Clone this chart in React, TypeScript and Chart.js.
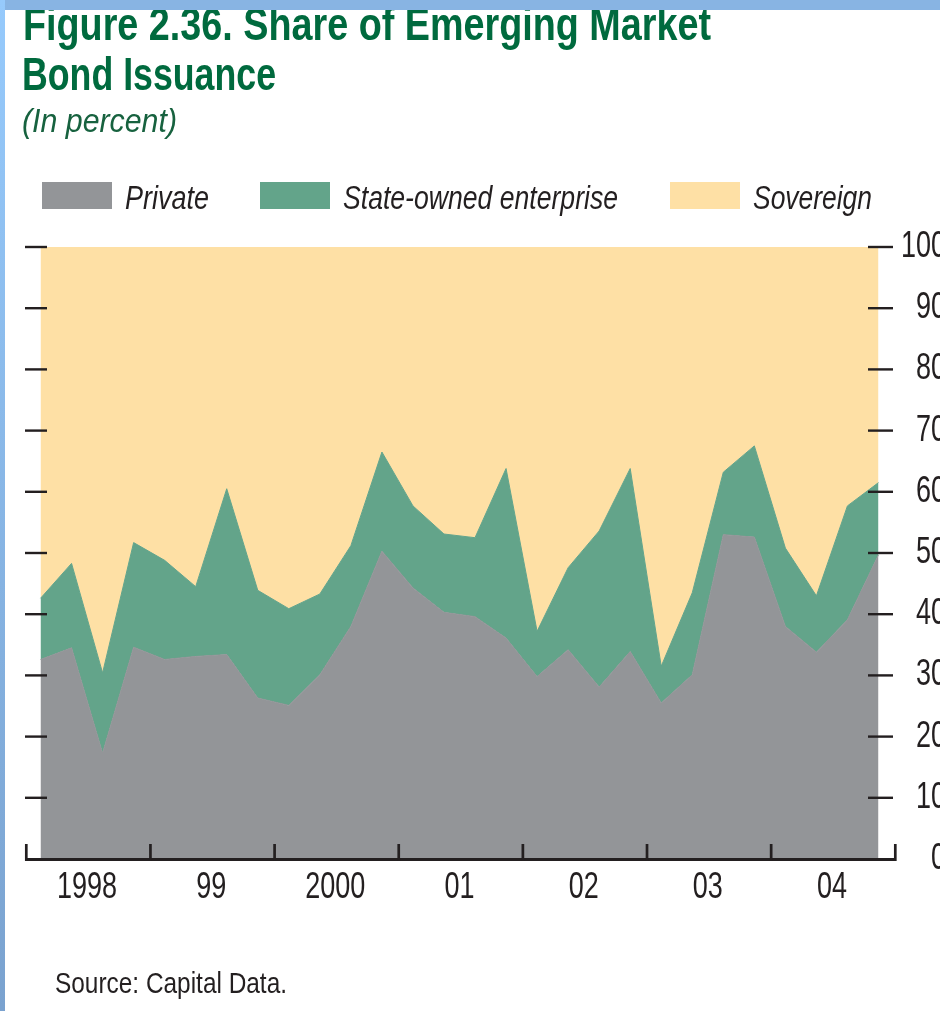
import React, { useEffect, useLayoutEffect, useRef } from 'react';
import { Chart, registerables } from 'chart.js';

Chart.register(...registerables);

// ---------- data ----------
const fullYears = ['1998', '1999', '2000', '2001', '2002', '2003', '2004'];
const quarterNames = ['Q1', 'Q2', 'Q3', 'Q4'];
const quarterLabels = fullYears.flatMap((y) => quarterNames.map((q) => `${y} ${q}`));
const yearTickLabels = ['1998', '99', '2000', '01', '02', '03', '04'];
const yTickValues = [0, 10, 20, 30, 40, 50, 60, 70, 80, 90, 100];

const privateShare = [
  32.6, 34.5, 17.3, 34.6, 32.6, 33.1, 33.4, 26.3, 25.1, 30.1, 38.0, 50.3, 44.3, 40.3,
  39.6, 36.1, 29.8, 34.2, 28.1, 33.9, 25.5, 30.1, 53.0, 52.6, 38.0, 33.8, 39.1, 49.7,
];
const stateOwnedShare = [
  10.0, 13.8, 13.1, 17.1, 16.2, 11.4, 27.1, 17.6, 15.8, 13.2, 13.2, 16.2, 13.4, 12.8,
  12.9, 27.7, 7.4, 13.4, 25.5, 29.9, 6.0, 13.4, 10.2, 14.9, 12.8, 9.2, 18.6, 11.8,
];
const sovereignShare = [
  57.4, 51.7, 69.6, 48.3, 51.2, 55.5, 39.5, 56.1, 59.1, 56.7, 48.8, 33.5, 42.3, 46.9,
  47.5, 36.2, 62.8, 52.4, 46.4, 36.2, 68.5, 56.5, 36.8, 32.5, 49.2, 57.0, 42.3, 38.5,
];

const seriesNames = ['Private', 'State-owned enterprise', 'Sovereign'];
const seriesColors = ['#939598', '#63a48a', '#fee0a5'];

// ---------- style ----------
const INK = '#231f20';
const GREEN = '#006a3e';
const FONT = '"Liberation Sans", Arial, Helvetica, sans-serif';

type FitProps = {
  text: string;
  left: number;
  baseline: number;
  size: number;
  width: number;
  bold?: boolean;
  italic?: boolean;
  color: string;
};

function FitText({ text, left, baseline, size, width, bold, italic, color }: FitProps) {
  const ref = useRef<HTMLSpanElement>(null);
  useLayoutEffect(() => {
    const fit = () => {
      const el = ref.current;
      if (!el) return;
      el.style.transform = 'none';
      const w = el.getBoundingClientRect().width;
      if (w > 0) el.style.transform = `scaleX(${width / w})`;
    };
    fit();
    if ((document as any).fonts && (document as any).fonts.ready) {
      (document as any).fonts.ready.then(fit);
    }
  }, [text, width, size]);
  return (
    <span
      ref={ref}
      style={{
        position: 'absolute',
        left,
        top: baseline - 0.8465 * size,
        fontFamily: FONT,
        fontSize: size,
        lineHeight: `${size}px`,
        fontWeight: bold ? 'bold' : 'normal',
        fontStyle: italic ? 'italic' : 'normal',
        color,
        whiteSpace: 'nowrap',
        display: 'inline-block',
        transformOrigin: '0 0',
      }}
    >
      {text}
    </span>
  );
}

const axisPlugin = {
  id: 'imfAxes',
  afterDatasetsDraw(chart: any) {
    const { ctx, chartArea: a, scales } = chart;
    const xs = scales.x;
    const ys = scales.y;
    const seg = (x1: number, y1: number, x2: number, y2: number) => {
      ctx.beginPath();
      ctx.moveTo(x1, y1);
      ctx.lineTo(x2, y2);
      ctx.stroke();
    };
    ctx.save();
    ctx.strokeStyle = INK;
    ctx.fillStyle = INK;
    ctx.lineCap = 'butt';

    // y tick marks, both sides
    ctx.lineWidth = 2.4;
    yTickValues.forEach((v) => {
      if (v === 0) return;
      const y = ys.getPixelForValue(v);
      seg(a.left, y, a.left + 22, y);
      seg(a.right - 26, y, a.right - 1, y);
    });

    // bottom axis
    const y0 = ys.getPixelForValue(0);
    ctx.lineWidth = 3;
    seg(a.left, y0 + 0.5, a.right + 1.5, y0 + 0.5);

    // year boundary ticks
    ctx.lineWidth = 2.7;
    for (let k = 0; k <= yearTickLabels.length; k++) {
      const x = xs.getPixelForValue(4 * k - 0.5) + 1.3;
      seg(x, y0 - 15, x, y0 + 2);
    }

    // x labels (condensed)
    ctx.font = `36px ${FONT}`;
    ctx.textAlign = 'center';
    ctx.textBaseline = 'alphabetic';
    yearTickLabels.forEach((lab, k) => {
      const x = xs.getPixelForValue(4 * k + 1.5);
      ctx.save();
      ctx.translate(x, 898);
      ctx.scale(0.75, 1);
      ctx.fillText(lab, 0, 0);
      ctx.restore();
    });

    // y labels on the right (condensed, right-aligned past the edge)
    ctx.textAlign = 'right';
    ctx.textBaseline = 'middle';
    yTickValues.forEach((v) => {
      const y = ys.getPixelForValue(v);
      ctx.save();
      ctx.translate(946, y);
      ctx.scale(0.75, 1);
      ctx.fillText(String(v), 0, 0);
      ctx.restore();
    });
    ctx.restore();
  },
};

function AreaChart() {
  const canvasRef = useRef<HTMLCanvasElement>(null);
  useEffect(() => {
    const canvas = canvasRef.current;
    if (!canvas) return;
    const series = [privateShare, stateOwnedShare, sovereignShare];
    const chart = new Chart(canvas, {
      type: 'line',
      data: {
        labels: quarterLabels,
        datasets: series.map((vals, s) => ({
          label: seriesNames[s],
          data: vals.map((v, i) => ({ x: i, y: v })),
          backgroundColor: seriesColors[s],
          borderColor: seriesColors[s],
          borderWidth: 1,
          pointRadius: 0,
          tension: 0,
          fill: s === 0 ? 'origin' : '-1',
        })),
      },
      options: {
        animation: false,
        responsive: false,
        devicePixelRatio: 1,
        layout: { padding: { left: 25, right: 46, top: 247, bottom: 152 } },
        plugins: {
          legend: { display: false },
          tooltip: { enabled: false },
        },
        scales: {
          x: { type: 'linear', min: -0.5, max: 27.5, display: false },
          y: { type: 'linear', min: 0, max: 100, stacked: true, display: false },
        },
      },
      plugins: [axisPlugin],
    } as any);
    return () => chart.destroy();
  }, []);
  return (
    <canvas
      ref={canvasRef}
      width={940}
      height={1011}
      style={{ position: 'absolute', left: 0, top: 0, width: 940, height: 1011 }}
    />
  );
}

export default function App() {
  const legendBoxes = [42, 260, 670];
  const legendTexts = [
    { left: 125, width: 84 },
    { left: 343, width: 275 },
    { left: 753, width: 119 },
  ];
  return (
    <div
      style={{
        position: 'absolute',
        left: 0,
        top: 0,
        width: 940,
        height: 1011,
        overflow: 'hidden',
        background: '#ffffff',
      }}
    >
      <AreaChart />
      <FitText text="Figure 2.36. Share of Emerging Market" left={23} baseline={40} size={46} width={688} bold color={GREEN} />
      <FitText text="Bond Issuance" left={22} baseline={90} size={46} width={254} bold color={GREEN} />
      <FitText text="(In percent)" left={22} baseline={132} size={33} width={155} italic color="#17623f" />
      {legendBoxes.map((x, i) => (
        <div
          key={i}
          style={{ position: 'absolute', left: x, top: 182, width: 70, height: 27, background: seriesColors[i] }}
        />
      ))}
      {legendTexts.map((t, i) => (
        <FitText key={i} text={seriesNames[i]} left={t.left} baseline={209} size={33} width={t.width} italic color={INK} />
      ))}
      <FitText text="Source: Capital Data." left={55} baseline={993} size={30} width={232} color={INK} />
      <div style={{ position: 'absolute', left: 0, top: 0, width: 940, height: 10, background: '#88b4e3' }} />
      <div
        style={{
          position: 'absolute',
          left: 0,
          top: 0,
          width: 5,
          height: 1011,
          background: 'linear-gradient(to bottom, #96cafc, #7aa2cf)',
        }}
      />
    </div>
  );
}
